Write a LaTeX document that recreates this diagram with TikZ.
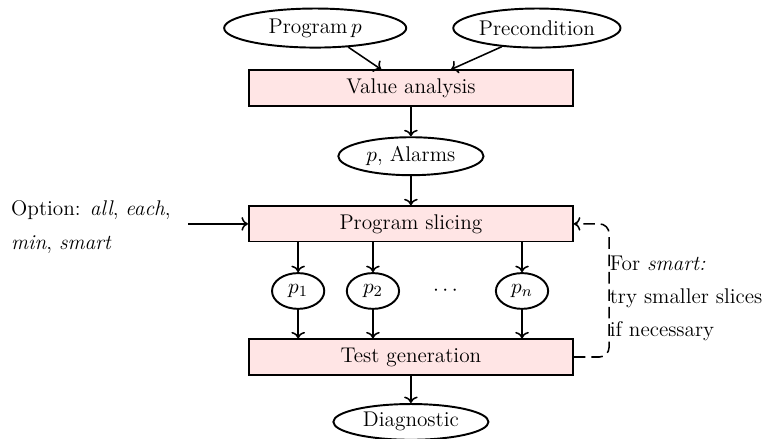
\documentclass[tikz,border=0pt]{standalone}
\usepackage{tikz}
\usetikzlibrary{arrows, arrows.meta}
\usetikzlibrary{positioning, shapes.geometric}
\usepackage{amsmath}

\tikzset{
  stagebox/.style={draw, line width=1pt, fill=red!10, rectangle, minimum width=5.89cm, minimum height=0.64cm, inner sep=0pt},
  blob/.style={draw, line width=1pt, ellipse, inner sep=0pt},
  flow/.style={->, thick}
}

\begin{document}
\begin{tikzpicture}[font=\fontsize{11}{13.5}\selectfont]
\useasboundingbox (0,0) rectangle (13.98,-7.98);
% inputs
\node[blob, minimum width=3.31cm, minimum height=0.71cm] (prog) at (5.73,-0.51) {Program\,$p$};
\node[blob, minimum width=3.04cm, minimum height=0.71cm] (pre) at (9.76,-0.51) {Precondition};
\node[stagebox] (val) at (7.47,-1.60) {Value analysis};
\draw[flow] (prog.-30) -- ([xshift=-5.4mm]val.north);
\draw[flow] (pre.-152) -- ([xshift=7.3mm]val.north);
\node[blob, minimum width=2.64cm, minimum height=0.69cm] (alarms) at (7.47,-2.84) {$p$, Alarms};
\draw[flow] (val) -- (alarms);
% slicing
\node[stagebox] (slice) at (7.47,-4.07) {Program slicing};
\draw[flow] (alarms) -- (slice);
\node[anchor=west, align=left] (opt) at (0.08,-4.13) {Option: \textit{all}, \textit{each},\\[4pt] \textit{min}, \textit{smart}};
\coordinate (optend) at (3.42,-4.07);
\draw[flow] (optend) -- (slice.west);
\node[blob, minimum width=0.95cm, minimum height=0.65cm] (p1) at (5.42,-5.29) {$p_1$};
\node[blob, minimum width=0.95cm, minimum height=0.65cm] (p2) at (6.78,-5.29) {$p_2$};
\node (dots) at (8.13,-5.29) {$\cdots$};
\node[blob, minimum width=0.95cm, minimum height=0.65cm] (pn) at (9.49,-5.29) {$p_n$};
% test generation
\node[stagebox] (test) at (7.47,-6.49) {Test generation};
\draw[flow] (p1 |- slice.south) -- (p1);
\draw[flow] (p2 |- slice.south) -- (p2);
\draw[flow] (pn |- slice.south) -- (pn);
\draw[flow] (p1) -- (p1 |- test.north);
\draw[flow] (p2) -- (p2 |- test.north);
\draw[flow] (pn) -- (pn |- test.north);
\node[blob, minimum width=2.82cm, minimum height=0.65cm] (diag) at (7.47,-7.67) {Diagnostic};
\draw[flow] (test) -- (diag);
% feedback for smart
\draw[flow, dash pattern=on 6pt off 3pt, rounded corners=5pt] (test.east) -- ++(0.64,0) |- (slice.east);
\node[anchor=west, align=left, inner sep=0pt] (fb) at (11.08,-5.42) {For \textit{smart:}\\[3.5pt] try smaller slices\\[3.5pt] if necessary};
\end{tikzpicture}
\end{document}
